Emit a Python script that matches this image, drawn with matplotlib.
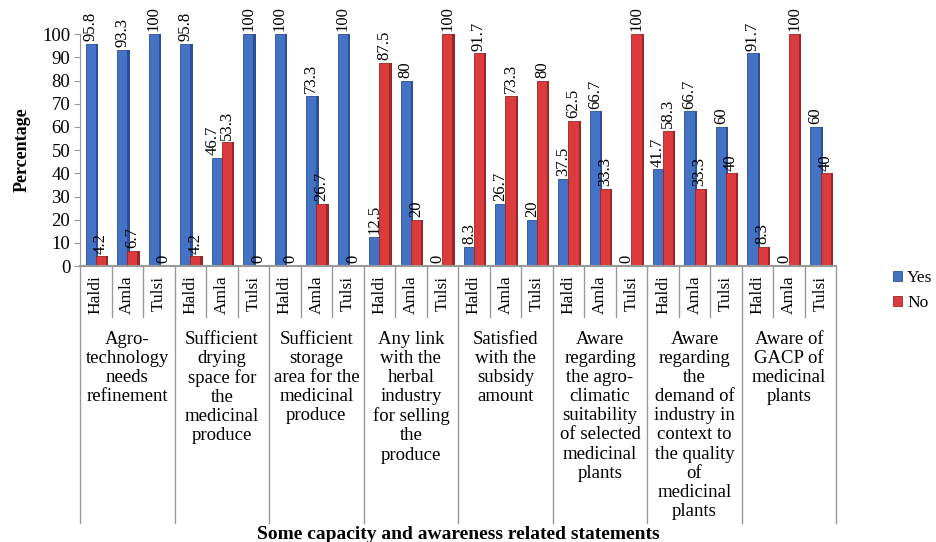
import matplotlib.pyplot as plt
import numpy as np

plt.rcParams['font.family'] = ['Liberation Serif', 'DejaVu Serif']

crops = ['Haldi', 'Amla', 'Tulsi']
statements = [
    'Agro-\ntechnology\nneeds\nrefinement',
    'Sufficient\ndrying\nspace for\nthe\nmedicinal\nproduce',
    'Sufficient\nstorage\narea for the\nmedicinal\nproduce',
    'Any link\nwith the\nherbal\nindustry\nfor selling\nthe\nproduce',
    'Satisfied\nwith the\nsubsidy\namount',
    'Aware\nregarding\nthe agro-\nclimatic\nsuitability\nof selected\nmedicinal\nplants',
    'Aware\nregarding\nthe\ndemand of\nindustry in\ncontext to\nthe quality\nof\nmedicinal\nplants',
    'Aware of\nGACP of\nmedicinal\nplants',
]
# order: statement by statement, Haldi / Amla / Tulsi
yes = [95.8, 93.3, 100, 95.8, 46.7, 100, 100, 73.3, 100, 12.5, 80, 0,
       8.3, 26.7, 20, 37.5, 66.7, 0, 41.7, 66.7, 60, 91.7, 0, 60]
no = [4.2, 6.7, 0, 4.2, 53.3, 0, 0, 26.7, 0, 87.5, 20, 100,
      91.7, 73.3, 80, 62.5, 33.3, 100, 58.3, 33.3, 40, 8.3, 100, 40]
yticks = list(range(0, 101, 10))

blue, blue_dk = '#4473c6', '#2b4f96'
red, red_dk = '#dc3b3d', '#9a2628'
grey = '#999999'


def fmt(v):
    return f'{v:g}'


fig = plt.figure(figsize=(9.36, 5.42), dpi=100)
ax = fig.add_axes([0.0855, 0.509, 0.808, 0.428])

n = len(yes)
x = np.arange(n) + 0.5
w = 0.32
d = 0.07

# bars with a darker side strip for the 3D look
ax.bar(x - w / 2, yes, width=w, color=blue, edgecolor=blue_dk, linewidth=0.6, label='Yes')
ax.bar(x + d / 2, yes, width=d, color=blue_dk, linewidth=0)
ax.bar(x + w / 2, no, width=w, color=red, edgecolor=red_dk, linewidth=0.6, label='No')
ax.bar(x + w + d / 2, no, width=d, color=red_dk, linewidth=0)

for xi, vy, vn in zip(x, yes, no):
    # push the blue label aside when the red bar next to it is just a bit taller
    shift = 0.12 if 0 < vn - vy < 12 else 0
    ax.text(xi - w / 2 - shift, vy + 1.2, fmt(vy), rotation=90, ha='center', va='bottom',
            fontsize=12, clip_on=False)
    ax.text(xi + w / 2, vn + 1.2, fmt(vn), rotation=90, ha='center', va='bottom',
            fontsize=12, clip_on=False)

ax.set_xlim(0, n)
ax.set_ylim(0, 100)
ax.set_yticks(yticks)
ax.tick_params(axis='y', labelsize=13.5, length=4, color=grey, pad=3)
ax.set_xticks([])
for s in ['top', 'right', 'bottom']:
    ax.spines[s].set_visible(False)
ax.spines['left'].set_color(grey)
ax.axhline(0, color=grey, lw=1.5, clip_on=False)

trans = ax.get_xaxis_transform()
# crop labels and small dividers
for i in range(n):
    ax.text(x[i], -0.04, crops[i % 3], rotation=90, ha='center', va='top',
            fontsize=12.5, transform=trans)
for i in range(n + 1):
    bottom = -1.108 if i % 3 == 0 else -0.22
    ax.plot([i, i], [0, bottom], color=grey, lw=1, transform=trans, clip_on=False)

# statement labels
for g, lab in enumerate(statements):
    ax.text(g * 3 + 1.5, -0.28, lab, ha='center', va='top', fontsize=13.5,
            linespacing=1.16, transform=trans)

ax.set_ylabel('Percentage', fontsize=13, fontweight='bold', labelpad=8)
fig.text(0.49, 0.014, 'Some capacity and awareness related statements',
         ha='center', va='center', fontsize=14, fontweight='bold')

ax.legend(loc='upper left', bbox_to_anchor=(0.947, 0.515), bbox_transform=fig.transFigure,
          frameon=False, fontsize=12.5, handlelength=0.5, handleheight=0.5,
          handletextpad=0.3, labelspacing=0.55, borderaxespad=0)

fig.savefig('out.png', dpi=100)
